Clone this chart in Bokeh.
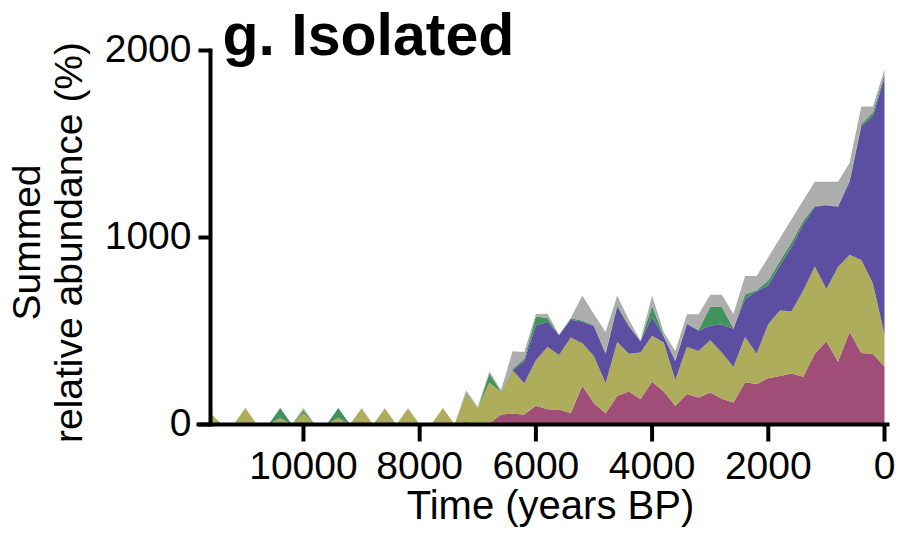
import math
from bokeh.plotting import figure
from bokeh.models import Range1d, Label, ColumnDataSource
from bokeh.core.properties import value
from bokeh.embed import file_html
from bokeh.resources import INLINE

# Time bins (years BP)
years = [0, 200, 400, 600, 800, 1000, 1200, 1400, 1600, 1800,
         2000, 2200, 2400, 2600, 2800, 3000, 3200, 3400, 3600, 3800,
         4000, 4200, 4400, 4600, 4800, 5000, 5200, 5400, 5600, 5800,
         6000, 6200, 6400, 6600, 6800, 7000, 7200, 7400, 7600, 7800,
         8000, 8200, 8400, 8600, 8800, 9000, 9200, 9400, 9600, 9800,
         10000, 10200, 10400, 10600, 10800, 11000, 11200, 11400, 11600]

# Relative abundance (%) per group, stacked bottom to top
pink = [309, 378, 383, 494, 335, 445, 379, 256, 273, 260,
        247, 217, 226, 118, 138, 171, 145, 163, 100, 176,
        229, 136, 176, 152, 60, 113, 207, 60, 80, 82,
        100, 53, 58, 53, 5, 0, 15, 0, 0, 0,
        0, 0, 0, 0, 0, 0, 0, 0, 0, 0,
        0, 0, 0, 0, 0, 0, 0, 0, 0]
olive = [171, 377, 497, 414, 507, 279, 466, 459, 332, 349,
         291, 162, 242, 189, 247, 279, 248, 253, 138, 262,
         245, 249, 202, 289, 160, 252, 228, 405, 291, 333,
         244, 167, 232, 119, 220, 88, 147, 0, 88, 0,
         0, 85, 0, 85, 0, 85, 0, 35, 0, 0,
         60, 0, 35, 0, 0, 88, 0, 0, 60]
indigo = [1374, 895, 714, 392, 323, 448, 320, 355, 345, 241,
          207, 334, 203, 205, 150, 80, 110, 122, 102, 32,
          100, 60, 147, 189, 159, 160, 115, 95, 107, 135,
          186, 120, 0, 0, 0, 0, 0, 0, 0, 0,
          0, 0, 0, 0, 0, 0, 0, 0, 0, 0,
          0, 0, 0, 0, 0, 0, 0, 0, 0]
green = [17, 18, 12, 5, 2, 2, 5, 20, 25, 25,
         25, 5, 26, 3, 93, 100, 3, 2, 2, 5,
         60, 2, 5, 10, 3, 5, 6, 8, 0, 20,
         47, 12, 8, 4, 47, 0, 8, 0, 0, 0,
         0, 0, 0, 0, 0, 0, 0, 53, 0, 0,
         15, 0, 53, 0, 0, 0, 0, 0, 0]
grey = [27, 32, 94, 95, 131, 124, 128, 108, 122, 121,
        125, 76, 97, 76, 66, 64, 84, 50, 51, 19,
        55, 3, 30, 50, 112, 60, 134, 2, 2, 22,
        14, 36, 94, 9, 13, 7, 12, 0, 0, 0,
        0, 3, 0, 3, 0, 3, 0, 0, 0, 0,
        13, 0, 0, 0, 0, 0, 0, 0, 0]

x_ticks = [0, 2000, 4000, 6000, 8000, 10000]
x_tick_labels = ["0", "2000", "4000", "6000", "8000", "10000"]
y_ticks = [0, 1000, 2000]
y_tick_labels = ["0", "1000", "2000"]
x_label = "Time (years BP)"
y_label_lines = ["Summed", "relative abundance (%)"]
title_text = "g. Isolated"
colors = ["#A04E77", "#ADAD5C", "#5C4EA0", "#41925C", "#ADADAD"]

FONT = "Liberation Sans"

# ---- layout (canvas pixels) ----
W, H = 896, 527
AX_LEFT, AX_ZERO = 210, 884       # pixel columns of the oldest bin and of 0 BP
AX_BOTTOM, AX_TOP = 424, 50       # pixel rows of y=0 and y=2000
ppy = (AX_ZERO - AX_LEFT) / (max(years) - min(years))
ppu = (AX_BOTTOM - AX_TOP) / (max(y_ticks) - min(y_ticks))
x_start = max(years) + AX_LEFT / ppy
x_end = min(years) - (W - AX_ZERO) / ppy
y_top = max(y_ticks) + AX_TOP / ppu
y_bot = min(y_ticks) - (H - AX_BOTTOM) / ppu


def dx(px):
    return px / ppy


def dy(px):
    return px / ppu


def X(cx):
    return x_start - cx / ppy


def Y(cy):
    return y_top - cy / ppu


MID = 0.3465  # middle-anchor offset above the baseline, in em

src = ColumnDataSource(dict(year=years, pink=pink, olive=olive,
                            indigo=indigo, green=green, grey=grey))

p = figure(width=W, height=H,
           x_range=Range1d(x_start, x_end), y_range=Range1d(y_bot, y_top),
           output_backend="svg", toolbar_location=None,
           x_axis_location=None, y_axis_location=None,
           min_border=0)
p.grid.visible = False
p.outline_line_color = None
p.background_fill_color = "white"
p.border_fill_color = "white"

p.varea_stack(stackers=["pink", "olive", "indigo", "green", "grey"],
              x="year", color=colors, source=src)

x_edge = max(years)

# y axis line, ticks, labels
p.segment(x0=[x_edge], y0=[min(y_ticks) - dy(2)], x1=[x_edge], y1=[max(y_ticks) + dy(2)],
          line_color="black", line_width=4)
p.segment(x0=[x_edge] * len(y_ticks), y0=y_ticks,
          x1=[x_edge + dx(12)] * len(y_ticks), y1=y_ticks,
          line_color="black", line_width=4)
p.text(x=[x_edge + dx(19)] * len(y_ticks), y=[t + dy(2) for t in y_ticks],
       text=y_tick_labels,
       text_font=value(FONT), text_font_size=value("39px"), text_color="black",
       text_align="right", text_baseline="middle")

# x axis line, ticks, labels
p.segment(x0=[x_edge + dx(14)], y0=[0], x1=[min(x_ticks) - dx(5)], y1=[0],
          line_color="black", line_width=4)
p.segment(x0=x_ticks, y0=[0] * len(x_ticks), x1=x_ticks, y1=[-dy(17)] * len(x_ticks),
          line_color="black", line_width=4)
p.text(x=x_ticks, y=[-dy(55 - MID * 39)] * len(x_ticks), text=x_tick_labels,
       text_font=value(FONT), text_font_size=value("39px"), text_color="black",
       text_align="center", text_baseline="middle")

# axis titles
p.text(x=[X(550)], y=[Y(518 - MID * 40)], text=[x_label],
       text_font=value(FONT), text_font_size=value("40px"), text_color="black",
       text_align="center", text_baseline="middle")
p.text(x=[X(40 - MID * 39), X(82 - MID * 39)], y=[Y(242), Y(242)], text=y_label_lines,
       angle=math.pi / 2,
       text_font=value(FONT), text_font_size=value("39px"), text_color="black",
       text_align="center", text_baseline="middle")

# panel title
title = Label(x=X(222), y=Y(55 - MID * 59), text=title_text, text_font=FONT,
              text_font_style="bold", text_font_size="59px",
              text_baseline="middle", text_align="left", text_color="black")
p.add_layout(title)

open("out.html", "w").write(file_html(p, INLINE))
